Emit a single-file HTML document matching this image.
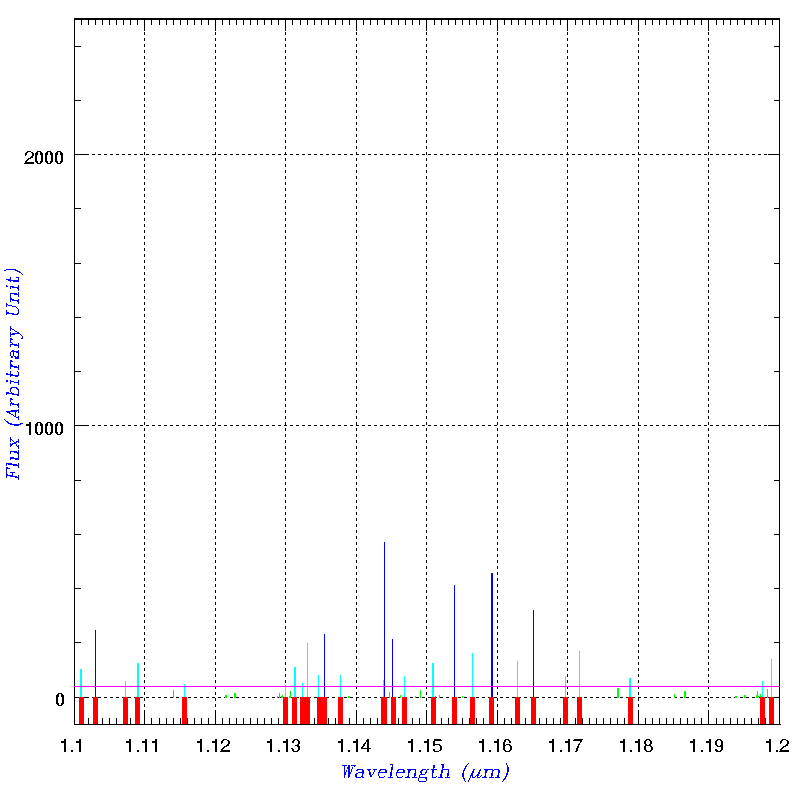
<!DOCTYPE html>
<html><head><meta charset="utf-8"><title>Flux vs Wavelength</title>
<style>
html,body{margin:0;padding:0;background:#fff;}
body{width:797px;height:797px;position:relative;overflow:hidden;font-family:"Liberation Sans",sans-serif;}
svg{position:absolute;left:0;top:0;}
.t{position:absolute;display:block;font-size:18px;line-height:20px;color:transparent;white-space:pre;}
.a{font-family:"Liberation Mono",monospace;font-style:italic;}
.v{left:0;top:0;transform-origin:0 0;transform:translate(4px,480px) rotate(-90deg);}
</style></head><body>
<svg width="797" height="797" viewBox="0 0 797 797" shape-rendering="crispEdges" role="img" aria-label="Flux (Arbitrary Unit) versus Wavelength (micron)">
<line x1="144.5" y1="20" x2="144.5" y2="724" stroke="#000" stroke-width="1" stroke-dasharray="3 3"/>
<line x1="215.5" y1="20" x2="215.5" y2="724" stroke="#000" stroke-width="1" stroke-dasharray="3 3"/>
<line x1="285.5" y1="20" x2="285.5" y2="724" stroke="#000" stroke-width="1" stroke-dasharray="3 3"/>
<line x1="356.5" y1="20" x2="356.5" y2="724" stroke="#000" stroke-width="1" stroke-dasharray="3 3"/>
<line x1="426.5" y1="20" x2="426.5" y2="724" stroke="#000" stroke-width="1" stroke-dasharray="3 3"/>
<line x1="497.5" y1="20" x2="497.5" y2="724" stroke="#000" stroke-width="1" stroke-dasharray="3 3"/>
<line x1="567.5" y1="20" x2="567.5" y2="724" stroke="#000" stroke-width="1" stroke-dasharray="3 3"/>
<line x1="638.5" y1="20" x2="638.5" y2="724" stroke="#000" stroke-width="1" stroke-dasharray="3 3"/>
<line x1="708.5" y1="20" x2="708.5" y2="724" stroke="#000" stroke-width="1" stroke-dasharray="3 3"/>
<line x1="74" y1="697.5" x2="779" y2="697.5" stroke="#000" stroke-width="1" stroke-dasharray="3 3"/>
<line x1="74" y1="425.5" x2="779" y2="425.5" stroke="#000" stroke-width="1" stroke-dasharray="3 3"/>
<line x1="74" y1="154.5" x2="779" y2="154.5" stroke="#000" stroke-width="1" stroke-dasharray="3 3"/>
<rect x="81" y="20" width="1" height="5" fill="#000"/>
<rect x="81" y="718" width="1" height="6" fill="#000"/>
<rect x="88" y="20" width="1" height="5" fill="#000"/>
<rect x="88" y="718" width="1" height="6" fill="#000"/>
<rect x="95" y="20" width="1" height="5" fill="#000"/>
<rect x="95" y="718" width="1" height="6" fill="#000"/>
<rect x="102" y="20" width="1" height="5" fill="#000"/>
<rect x="102" y="718" width="1" height="6" fill="#000"/>
<rect x="109" y="20" width="1" height="5" fill="#000"/>
<rect x="109" y="718" width="1" height="6" fill="#000"/>
<rect x="116" y="20" width="1" height="5" fill="#000"/>
<rect x="116" y="718" width="1" height="6" fill="#000"/>
<rect x="123" y="20" width="1" height="5" fill="#000"/>
<rect x="123" y="718" width="1" height="6" fill="#000"/>
<rect x="130" y="20" width="1" height="5" fill="#000"/>
<rect x="130" y="718" width="1" height="6" fill="#000"/>
<rect x="137" y="20" width="1" height="5" fill="#000"/>
<rect x="137" y="718" width="1" height="6" fill="#000"/>
<rect x="144" y="20" width="1" height="11" fill="#000"/>
<rect x="144" y="713" width="1" height="11" fill="#000"/>
<rect x="151" y="20" width="1" height="5" fill="#000"/>
<rect x="151" y="718" width="1" height="6" fill="#000"/>
<rect x="159" y="20" width="1" height="5" fill="#000"/>
<rect x="159" y="718" width="1" height="6" fill="#000"/>
<rect x="166" y="20" width="1" height="5" fill="#000"/>
<rect x="166" y="718" width="1" height="6" fill="#000"/>
<rect x="173" y="20" width="1" height="5" fill="#000"/>
<rect x="173" y="718" width="1" height="6" fill="#000"/>
<rect x="180" y="20" width="1" height="5" fill="#000"/>
<rect x="180" y="718" width="1" height="6" fill="#000"/>
<rect x="187" y="20" width="1" height="5" fill="#000"/>
<rect x="187" y="718" width="1" height="6" fill="#000"/>
<rect x="194" y="20" width="1" height="5" fill="#000"/>
<rect x="194" y="718" width="1" height="6" fill="#000"/>
<rect x="201" y="20" width="1" height="5" fill="#000"/>
<rect x="201" y="718" width="1" height="6" fill="#000"/>
<rect x="208" y="20" width="1" height="5" fill="#000"/>
<rect x="208" y="718" width="1" height="6" fill="#000"/>
<rect x="215" y="20" width="1" height="11" fill="#000"/>
<rect x="215" y="713" width="1" height="11" fill="#000"/>
<rect x="222" y="20" width="1" height="5" fill="#000"/>
<rect x="222" y="718" width="1" height="6" fill="#000"/>
<rect x="229" y="20" width="1" height="5" fill="#000"/>
<rect x="229" y="718" width="1" height="6" fill="#000"/>
<rect x="236" y="20" width="1" height="5" fill="#000"/>
<rect x="236" y="718" width="1" height="6" fill="#000"/>
<rect x="243" y="20" width="1" height="5" fill="#000"/>
<rect x="243" y="718" width="1" height="6" fill="#000"/>
<rect x="250" y="20" width="1" height="5" fill="#000"/>
<rect x="250" y="718" width="1" height="6" fill="#000"/>
<rect x="257" y="20" width="1" height="5" fill="#000"/>
<rect x="257" y="718" width="1" height="6" fill="#000"/>
<rect x="264" y="20" width="1" height="5" fill="#000"/>
<rect x="264" y="718" width="1" height="6" fill="#000"/>
<rect x="271" y="20" width="1" height="5" fill="#000"/>
<rect x="271" y="718" width="1" height="6" fill="#000"/>
<rect x="278" y="20" width="1" height="5" fill="#000"/>
<rect x="278" y="718" width="1" height="6" fill="#000"/>
<rect x="285" y="20" width="1" height="11" fill="#000"/>
<rect x="285" y="713" width="1" height="11" fill="#000"/>
<rect x="292" y="20" width="1" height="5" fill="#000"/>
<rect x="292" y="718" width="1" height="6" fill="#000"/>
<rect x="300" y="20" width="1" height="5" fill="#000"/>
<rect x="300" y="718" width="1" height="6" fill="#000"/>
<rect x="307" y="20" width="1" height="5" fill="#000"/>
<rect x="307" y="718" width="1" height="6" fill="#000"/>
<rect x="314" y="20" width="1" height="5" fill="#000"/>
<rect x="314" y="718" width="1" height="6" fill="#000"/>
<rect x="321" y="20" width="1" height="5" fill="#000"/>
<rect x="321" y="718" width="1" height="6" fill="#000"/>
<rect x="328" y="20" width="1" height="5" fill="#000"/>
<rect x="328" y="718" width="1" height="6" fill="#000"/>
<rect x="335" y="20" width="1" height="5" fill="#000"/>
<rect x="335" y="718" width="1" height="6" fill="#000"/>
<rect x="342" y="20" width="1" height="5" fill="#000"/>
<rect x="342" y="718" width="1" height="6" fill="#000"/>
<rect x="349" y="20" width="1" height="5" fill="#000"/>
<rect x="349" y="718" width="1" height="6" fill="#000"/>
<rect x="356" y="20" width="1" height="11" fill="#000"/>
<rect x="356" y="713" width="1" height="11" fill="#000"/>
<rect x="363" y="20" width="1" height="5" fill="#000"/>
<rect x="363" y="718" width="1" height="6" fill="#000"/>
<rect x="370" y="20" width="1" height="5" fill="#000"/>
<rect x="370" y="718" width="1" height="6" fill="#000"/>
<rect x="377" y="20" width="1" height="5" fill="#000"/>
<rect x="377" y="718" width="1" height="6" fill="#000"/>
<rect x="384" y="20" width="1" height="5" fill="#000"/>
<rect x="384" y="718" width="1" height="6" fill="#000"/>
<rect x="391" y="20" width="1" height="5" fill="#000"/>
<rect x="391" y="718" width="1" height="6" fill="#000"/>
<rect x="398" y="20" width="1" height="5" fill="#000"/>
<rect x="398" y="718" width="1" height="6" fill="#000"/>
<rect x="405" y="20" width="1" height="5" fill="#000"/>
<rect x="405" y="718" width="1" height="6" fill="#000"/>
<rect x="412" y="20" width="1" height="5" fill="#000"/>
<rect x="412" y="718" width="1" height="6" fill="#000"/>
<rect x="419" y="20" width="1" height="5" fill="#000"/>
<rect x="419" y="718" width="1" height="6" fill="#000"/>
<rect x="426" y="20" width="1" height="11" fill="#000"/>
<rect x="426" y="713" width="1" height="11" fill="#000"/>
<rect x="434" y="20" width="1" height="5" fill="#000"/>
<rect x="434" y="718" width="1" height="6" fill="#000"/>
<rect x="441" y="20" width="1" height="5" fill="#000"/>
<rect x="441" y="718" width="1" height="6" fill="#000"/>
<rect x="448" y="20" width="1" height="5" fill="#000"/>
<rect x="448" y="718" width="1" height="6" fill="#000"/>
<rect x="455" y="20" width="1" height="5" fill="#000"/>
<rect x="455" y="718" width="1" height="6" fill="#000"/>
<rect x="462" y="20" width="1" height="5" fill="#000"/>
<rect x="462" y="718" width="1" height="6" fill="#000"/>
<rect x="469" y="20" width="1" height="5" fill="#000"/>
<rect x="469" y="718" width="1" height="6" fill="#000"/>
<rect x="476" y="20" width="1" height="5" fill="#000"/>
<rect x="476" y="718" width="1" height="6" fill="#000"/>
<rect x="483" y="20" width="1" height="5" fill="#000"/>
<rect x="483" y="718" width="1" height="6" fill="#000"/>
<rect x="490" y="20" width="1" height="5" fill="#000"/>
<rect x="490" y="718" width="1" height="6" fill="#000"/>
<rect x="497" y="20" width="1" height="11" fill="#000"/>
<rect x="497" y="713" width="1" height="11" fill="#000"/>
<rect x="504" y="20" width="1" height="5" fill="#000"/>
<rect x="504" y="718" width="1" height="6" fill="#000"/>
<rect x="511" y="20" width="1" height="5" fill="#000"/>
<rect x="511" y="718" width="1" height="6" fill="#000"/>
<rect x="518" y="20" width="1" height="5" fill="#000"/>
<rect x="518" y="718" width="1" height="6" fill="#000"/>
<rect x="525" y="20" width="1" height="5" fill="#000"/>
<rect x="525" y="718" width="1" height="6" fill="#000"/>
<rect x="532" y="20" width="1" height="5" fill="#000"/>
<rect x="532" y="718" width="1" height="6" fill="#000"/>
<rect x="539" y="20" width="1" height="5" fill="#000"/>
<rect x="539" y="718" width="1" height="6" fill="#000"/>
<rect x="546" y="20" width="1" height="5" fill="#000"/>
<rect x="546" y="718" width="1" height="6" fill="#000"/>
<rect x="553" y="20" width="1" height="5" fill="#000"/>
<rect x="553" y="718" width="1" height="6" fill="#000"/>
<rect x="560" y="20" width="1" height="5" fill="#000"/>
<rect x="560" y="718" width="1" height="6" fill="#000"/>
<rect x="567" y="20" width="1" height="11" fill="#000"/>
<rect x="567" y="713" width="1" height="11" fill="#000"/>
<rect x="575" y="20" width="1" height="5" fill="#000"/>
<rect x="575" y="718" width="1" height="6" fill="#000"/>
<rect x="582" y="20" width="1" height="5" fill="#000"/>
<rect x="582" y="718" width="1" height="6" fill="#000"/>
<rect x="589" y="20" width="1" height="5" fill="#000"/>
<rect x="589" y="718" width="1" height="6" fill="#000"/>
<rect x="596" y="20" width="1" height="5" fill="#000"/>
<rect x="596" y="718" width="1" height="6" fill="#000"/>
<rect x="603" y="20" width="1" height="5" fill="#000"/>
<rect x="603" y="718" width="1" height="6" fill="#000"/>
<rect x="610" y="20" width="1" height="5" fill="#000"/>
<rect x="610" y="718" width="1" height="6" fill="#000"/>
<rect x="617" y="20" width="1" height="5" fill="#000"/>
<rect x="617" y="718" width="1" height="6" fill="#000"/>
<rect x="624" y="20" width="1" height="5" fill="#000"/>
<rect x="624" y="718" width="1" height="6" fill="#000"/>
<rect x="631" y="20" width="1" height="5" fill="#000"/>
<rect x="631" y="718" width="1" height="6" fill="#000"/>
<rect x="638" y="20" width="1" height="11" fill="#000"/>
<rect x="638" y="713" width="1" height="11" fill="#000"/>
<rect x="645" y="20" width="1" height="5" fill="#000"/>
<rect x="645" y="718" width="1" height="6" fill="#000"/>
<rect x="652" y="20" width="1" height="5" fill="#000"/>
<rect x="652" y="718" width="1" height="6" fill="#000"/>
<rect x="659" y="20" width="1" height="5" fill="#000"/>
<rect x="659" y="718" width="1" height="6" fill="#000"/>
<rect x="666" y="20" width="1" height="5" fill="#000"/>
<rect x="666" y="718" width="1" height="6" fill="#000"/>
<rect x="673" y="20" width="1" height="5" fill="#000"/>
<rect x="673" y="718" width="1" height="6" fill="#000"/>
<rect x="680" y="20" width="1" height="5" fill="#000"/>
<rect x="680" y="718" width="1" height="6" fill="#000"/>
<rect x="687" y="20" width="1" height="5" fill="#000"/>
<rect x="687" y="718" width="1" height="6" fill="#000"/>
<rect x="694" y="20" width="1" height="5" fill="#000"/>
<rect x="694" y="718" width="1" height="6" fill="#000"/>
<rect x="701" y="20" width="1" height="5" fill="#000"/>
<rect x="701" y="718" width="1" height="6" fill="#000"/>
<rect x="708" y="20" width="1" height="11" fill="#000"/>
<rect x="708" y="713" width="1" height="11" fill="#000"/>
<rect x="716" y="20" width="1" height="5" fill="#000"/>
<rect x="716" y="718" width="1" height="6" fill="#000"/>
<rect x="723" y="20" width="1" height="5" fill="#000"/>
<rect x="723" y="718" width="1" height="6" fill="#000"/>
<rect x="730" y="20" width="1" height="5" fill="#000"/>
<rect x="730" y="718" width="1" height="6" fill="#000"/>
<rect x="737" y="20" width="1" height="5" fill="#000"/>
<rect x="737" y="718" width="1" height="6" fill="#000"/>
<rect x="744" y="20" width="1" height="5" fill="#000"/>
<rect x="744" y="718" width="1" height="6" fill="#000"/>
<rect x="751" y="20" width="1" height="5" fill="#000"/>
<rect x="751" y="718" width="1" height="6" fill="#000"/>
<rect x="758" y="20" width="1" height="5" fill="#000"/>
<rect x="758" y="718" width="1" height="6" fill="#000"/>
<rect x="765" y="20" width="1" height="5" fill="#000"/>
<rect x="765" y="718" width="1" height="6" fill="#000"/>
<rect x="772" y="20" width="1" height="5" fill="#000"/>
<rect x="772" y="718" width="1" height="6" fill="#000"/>
<rect x="75" y="697" width="11" height="1" fill="#000"/>
<rect x="768" y="697" width="11" height="1" fill="#000"/>
<rect x="75" y="642" width="6" height="1" fill="#000"/>
<rect x="774" y="642" width="5" height="1" fill="#000"/>
<rect x="75" y="588" width="6" height="1" fill="#000"/>
<rect x="774" y="588" width="5" height="1" fill="#000"/>
<rect x="75" y="534" width="6" height="1" fill="#000"/>
<rect x="774" y="534" width="5" height="1" fill="#000"/>
<rect x="75" y="480" width="6" height="1" fill="#000"/>
<rect x="774" y="480" width="5" height="1" fill="#000"/>
<rect x="75" y="425" width="11" height="1" fill="#000"/>
<rect x="768" y="425" width="11" height="1" fill="#000"/>
<rect x="75" y="371" width="6" height="1" fill="#000"/>
<rect x="774" y="371" width="5" height="1" fill="#000"/>
<rect x="75" y="317" width="6" height="1" fill="#000"/>
<rect x="774" y="317" width="5" height="1" fill="#000"/>
<rect x="75" y="263" width="6" height="1" fill="#000"/>
<rect x="774" y="263" width="5" height="1" fill="#000"/>
<rect x="75" y="208" width="6" height="1" fill="#000"/>
<rect x="774" y="208" width="5" height="1" fill="#000"/>
<rect x="75" y="154" width="11" height="1" fill="#000"/>
<rect x="768" y="154" width="11" height="1" fill="#000"/>
<rect x="75" y="100" width="6" height="1" fill="#000"/>
<rect x="774" y="100" width="5" height="1" fill="#000"/>
<rect x="75" y="46" width="6" height="1" fill="#000"/>
<rect x="774" y="46" width="5" height="1" fill="#000"/>
<rect x="173" y="690" width="1" height="8" fill="#00ff00"/>
<rect x="225" y="695" width="2" height="3" fill="#00ff00"/>
<rect x="234" y="693" width="2" height="5" fill="#00ff00"/>
<rect x="277" y="696" width="1" height="2" fill="#00ff00"/>
<rect x="279" y="693" width="1" height="5" fill="#00ff00"/>
<rect x="281" y="696" width="1" height="2" fill="#00ff00"/>
<rect x="282" y="695" width="1" height="3" fill="#00ff00"/>
<rect x="290" y="691" width="1" height="7" fill="#00ff00"/>
<rect x="289" y="696" width="1" height="2" fill="#00ff00"/>
<rect x="348" y="696" width="2" height="2" fill="#00ff00"/>
<rect x="389" y="692" width="1" height="6" fill="#00ff00"/>
<rect x="400" y="695" width="1" height="3" fill="#00ff00"/>
<rect x="415" y="696" width="1" height="2" fill="#00ff00"/>
<rect x="420" y="690" width="1" height="8" fill="#00ff00"/>
<rect x="435" y="696" width="1" height="1" fill="#00ff00"/>
<rect x="439" y="695" width="1" height="3" fill="#00ff00"/>
<rect x="462" y="696" width="1" height="2" fill="#00ff00"/>
<rect x="617" y="688" width="2" height="10" fill="#00ff00"/>
<rect x="674" y="694" width="1" height="4" fill="#00ff00"/>
<rect x="684" y="691" width="2" height="7" fill="#00ff00"/>
<rect x="735" y="696" width="2" height="2" fill="#00ff00"/>
<rect x="744" y="695" width="2" height="3" fill="#00ff00"/>
<rect x="756" y="695" width="2" height="3" fill="#00ff00"/>
<rect x="758" y="696" width="1" height="2" fill="#00ff00"/>
<rect x="757" y="691" width="1" height="7" fill="#00ff00"/>
<rect x="760" y="694" width="1" height="3" fill="#00ff00"/>
<rect x="761" y="696" width="1" height="1" fill="#00ff00"/>
<rect x="767" y="689" width="1" height="9" fill="#00ff00"/>
<rect x="80" y="669" width="2" height="28" fill="#00ffff"/>
<rect x="125" y="681" width="1" height="16" fill="#00ffff"/>
<rect x="137" y="663" width="2" height="34" fill="#00ffff"/>
<rect x="184" y="684" width="1" height="13" fill="#00ffff"/>
<rect x="285" y="685" width="1" height="12" fill="#00ffff"/>
<rect x="294" y="667" width="2" height="30" fill="#00ffff"/>
<rect x="302" y="683" width="1" height="14" fill="#00ffff"/>
<rect x="307" y="643" width="1" height="54" fill="#00ffff"/>
<rect x="318" y="675" width="1" height="22" fill="#00ffff"/>
<rect x="340" y="675" width="1" height="22" fill="#00ffff"/>
<rect x="383" y="680" width="1" height="17" fill="#00ffff"/>
<rect x="404" y="676" width="1" height="21" fill="#00ffff"/>
<rect x="432" y="663" width="2" height="34" fill="#00ffff"/>
<rect x="472" y="653" width="1" height="44" fill="#00ffff"/>
<rect x="517" y="661" width="1" height="36" fill="#00ffff"/>
<rect x="565" y="676" width="1" height="21" fill="#00ffff"/>
<rect x="579" y="651" width="1" height="46" fill="#00ffff"/>
<rect x="629" y="678" width="2" height="19" fill="#00ffff"/>
<rect x="762" y="681" width="1" height="16" fill="#00ffff"/>
<rect x="771" y="659" width="1" height="38" fill="#00ffff"/>
<rect x="95" y="630" width="1" height="67" fill="#0000ff"/>
<rect x="324" y="634" width="1" height="63" fill="#0000ff"/>
<rect x="384" y="542" width="1" height="155" fill="#0000ff"/>
<rect x="392" y="639" width="1" height="58" fill="#0000ff"/>
<rect x="454" y="585" width="1" height="112" fill="#0000ff"/>
<rect x="491" y="573" width="2" height="124" fill="#0000ff"/>
<rect x="533" y="610" width="1" height="87" fill="#0000ff"/>
<rect x="79" y="697" width="5" height="27" fill="#ff0000"/>
<rect x="93" y="697" width="5" height="27" fill="#ff0000"/>
<rect x="123" y="697" width="5" height="27" fill="#ff0000"/>
<rect x="135" y="697" width="5" height="27" fill="#ff0000"/>
<rect x="182" y="697" width="5" height="27" fill="#ff0000"/>
<rect x="283" y="697" width="5" height="27" fill="#ff0000"/>
<rect x="292" y="697" width="5" height="27" fill="#ff0000"/>
<rect x="300" y="697" width="10" height="27" fill="#ff0000"/>
<rect x="317" y="697" width="10" height="27" fill="#ff0000"/>
<rect x="338" y="697" width="5" height="27" fill="#ff0000"/>
<rect x="381" y="697" width="6" height="27" fill="#ff0000"/>
<rect x="391" y="697" width="5" height="27" fill="#ff0000"/>
<rect x="402" y="697" width="5" height="27" fill="#ff0000"/>
<rect x="431" y="697" width="5" height="27" fill="#ff0000"/>
<rect x="452" y="697" width="5" height="27" fill="#ff0000"/>
<rect x="470" y="697" width="5" height="27" fill="#ff0000"/>
<rect x="489" y="697" width="5" height="27" fill="#ff0000"/>
<rect x="515" y="697" width="5" height="27" fill="#ff0000"/>
<rect x="531" y="697" width="5" height="27" fill="#ff0000"/>
<rect x="563" y="697" width="5" height="27" fill="#ff0000"/>
<rect x="577" y="697" width="5" height="27" fill="#ff0000"/>
<rect x="628" y="697" width="5" height="27" fill="#ff0000"/>
<rect x="760" y="697" width="5" height="27" fill="#ff0000"/>
<rect x="769" y="697" width="5" height="27" fill="#ff0000"/>
<rect x="74" y="18" width="706" height="2" fill="#000"/>
<rect x="74" y="724" width="707" height="1" fill="#000"/>
<rect x="74" y="18" width="1" height="707" fill="#000"/>
<rect x="779" y="18" width="1" height="707" fill="#000"/>
<rect x="74" y="686" width="706" height="1" fill="#ff00ff"/>
<g fill="#000"><path transform="translate(59 739)" d="M5 0h2v1h-2zM5 1h2v1h-2zM2 2h5v1h-5zM2 3h5v1h-5zM5 4h2v1h-2zM5 5h2v1h-2zM5 6h2v1h-2zM5 7h2v1h-2zM5 8h2v1h-2zM5 9h2v1h-2zM5 10h2v1h-2zM5 11h2v1h-2zM5 12h2v1h-2z"/><path transform="translate(68 739)" d="M3 11h2v1h-2zM3 12h2v1h-2z"/><path transform="translate(74 739)" d="M5 0h2v1h-2zM5 1h2v1h-2zM2 2h5v1h-5zM2 3h5v1h-5zM5 4h2v1h-2zM5 5h2v1h-2zM5 6h2v1h-2zM5 7h2v1h-2zM5 8h2v1h-2zM5 9h2v1h-2zM5 10h2v1h-2zM5 11h2v1h-2zM5 12h2v1h-2z"/><path transform="translate(124 739)" d="M5 0h2v1h-2zM5 1h2v1h-2zM2 2h5v1h-5zM2 3h5v1h-5zM5 4h2v1h-2zM5 5h2v1h-2zM5 6h2v1h-2zM5 7h2v1h-2zM5 8h2v1h-2zM5 9h2v1h-2zM5 10h2v1h-2zM5 11h2v1h-2zM5 12h2v1h-2z"/><path transform="translate(134 739)" d="M3 11h2v1h-2zM3 12h2v1h-2z"/><path transform="translate(140 739)" d="M5 0h2v1h-2zM5 1h2v1h-2zM2 2h5v1h-5zM2 3h5v1h-5zM5 4h2v1h-2zM5 5h2v1h-2zM5 6h2v1h-2zM5 7h2v1h-2zM5 8h2v1h-2zM5 9h2v1h-2zM5 10h2v1h-2zM5 11h2v1h-2zM5 12h2v1h-2z"/><path transform="translate(150 739)" d="M5 0h2v1h-2zM5 1h2v1h-2zM2 2h5v1h-5zM2 3h5v1h-5zM5 4h2v1h-2zM5 5h2v1h-2zM5 6h2v1h-2zM5 7h2v1h-2zM5 8h2v1h-2zM5 9h2v1h-2zM5 10h2v1h-2zM5 11h2v1h-2zM5 12h2v1h-2z"/><path transform="translate(195 739)" d="M5 0h2v1h-2zM5 1h2v1h-2zM2 2h5v1h-5zM2 3h5v1h-5zM5 4h2v1h-2zM5 5h2v1h-2zM5 6h2v1h-2zM5 7h2v1h-2zM5 8h2v1h-2zM5 9h2v1h-2zM5 10h2v1h-2zM5 11h2v1h-2zM5 12h2v1h-2z"/><path transform="translate(204 739)" d="M3 11h2v1h-2zM3 12h2v1h-2z"/><path transform="translate(210 739)" d="M5 0h2v1h-2zM5 1h2v1h-2zM2 2h5v1h-5zM2 3h5v1h-5zM5 4h2v1h-2zM5 5h2v1h-2zM5 6h2v1h-2zM5 7h2v1h-2zM5 8h2v1h-2zM5 9h2v1h-2zM5 10h2v1h-2zM5 11h2v1h-2zM5 12h2v1h-2z"/><path transform="translate(220 739)" d="M3 0h4v1h-4zM2 1h2v1h-2zM7 1h2v1h-2zM1 2h2v1h-2zM8 2h2v1h-2zM1 3h2v1h-2zM8 3h2v1h-2zM1 4h1v1h-1zM8 4h2v1h-2zM7 5h2v1h-2zM6 6h3v1h-3zM4 7h3v1h-3zM3 8h2v1h-2zM2 9h2v1h-2zM1 10h2v1h-2zM1 11h9v1h-9zM0 12h10v1h-10z"/><path transform="translate(265 739)" d="M5 0h2v1h-2zM5 1h2v1h-2zM2 2h5v1h-5zM2 3h5v1h-5zM5 4h2v1h-2zM5 5h2v1h-2zM5 6h2v1h-2zM5 7h2v1h-2zM5 8h2v1h-2zM5 9h2v1h-2zM5 10h2v1h-2zM5 11h2v1h-2zM5 12h2v1h-2z"/><path transform="translate(275 739)" d="M3 11h2v1h-2zM3 12h2v1h-2z"/><path transform="translate(281 739)" d="M5 0h2v1h-2zM5 1h2v1h-2zM2 2h5v1h-5zM2 3h5v1h-5zM5 4h2v1h-2zM5 5h2v1h-2zM5 6h2v1h-2zM5 7h2v1h-2zM5 8h2v1h-2zM5 9h2v1h-2zM5 10h2v1h-2zM5 11h2v1h-2zM5 12h2v1h-2z"/><path transform="translate(291 739)" d="M3 0h4v1h-4zM2 1h2v1h-2zM6 1h2v1h-2zM1 2h2v1h-2zM7 2h2v1h-2zM1 3h2v1h-2zM7 3h2v1h-2zM7 4h2v1h-2zM6 5h2v1h-2zM4 6h4v1h-4zM6 7h3v1h-3zM7 8h2v1h-2zM0 9h2v1h-2zM7 9h2v1h-2zM1 10h2v1h-2zM7 10h2v1h-2zM1 11h2v1h-2zM6 11h2v1h-2zM2 12h5v1h-5z"/><path transform="translate(336 739)" d="M5 0h2v1h-2zM5 1h2v1h-2zM2 2h5v1h-5zM2 3h5v1h-5zM5 4h2v1h-2zM5 5h2v1h-2zM5 6h2v1h-2zM5 7h2v1h-2zM5 8h2v1h-2zM5 9h2v1h-2zM5 10h2v1h-2zM5 11h2v1h-2zM5 12h2v1h-2z"/><path transform="translate(345 739)" d="M3 11h2v1h-2zM3 12h2v1h-2z"/><path transform="translate(351 739)" d="M5 0h2v1h-2zM5 1h2v1h-2zM2 2h5v1h-5zM2 3h5v1h-5zM5 4h2v1h-2zM5 5h2v1h-2zM5 6h2v1h-2zM5 7h2v1h-2zM5 8h2v1h-2zM5 9h2v1h-2zM5 10h2v1h-2zM5 11h2v1h-2zM5 12h2v1h-2z"/><path transform="translate(361 739)" d="M6 0h2v1h-2zM5 1h3v1h-3zM5 2h3v1h-3zM4 3h1v1h-1zM6 3h2v1h-2zM3 4h2v1h-2zM6 4h2v1h-2zM2 5h2v1h-2zM6 5h2v1h-2zM2 6h2v1h-2zM6 6h2v1h-2zM1 7h2v1h-2zM6 7h2v1h-2zM0 8h2v1h-2zM6 8h2v1h-2zM0 9h10v1h-10zM6 10h2v1h-2zM6 11h2v1h-2zM6 12h2v1h-2z"/><path transform="translate(406 739)" d="M5 0h2v1h-2zM5 1h2v1h-2zM2 2h5v1h-5zM2 3h5v1h-5zM5 4h2v1h-2zM5 5h2v1h-2zM5 6h2v1h-2zM5 7h2v1h-2zM5 8h2v1h-2zM5 9h2v1h-2zM5 10h2v1h-2zM5 11h2v1h-2zM5 12h2v1h-2z"/><path transform="translate(416 739)" d="M3 11h2v1h-2zM3 12h2v1h-2z"/><path transform="translate(422 739)" d="M5 0h2v1h-2zM5 1h2v1h-2zM2 2h5v1h-5zM2 3h5v1h-5zM5 4h2v1h-2zM5 5h2v1h-2zM5 6h2v1h-2zM5 7h2v1h-2zM5 8h2v1h-2zM5 9h2v1h-2zM5 10h2v1h-2zM5 11h2v1h-2zM5 12h2v1h-2z"/><path transform="translate(432 739)" d="M2 0h7v1h-7zM2 1h8v1h-8zM1 2h2v1h-2zM1 3h2v1h-2zM1 4h2v1h-2zM1 5h7v1h-7zM1 6h2v1h-2zM7 6h2v1h-2zM8 7h2v1h-2zM8 8h2v1h-2zM8 9h2v1h-2zM1 10h2v1h-2zM8 10h2v1h-2zM1 11h2v1h-2zM7 11h2v1h-2zM2 12h5v1h-5z"/><path transform="translate(477 739)" d="M5 0h2v1h-2zM5 1h2v1h-2zM2 2h5v1h-5zM2 3h5v1h-5zM5 4h2v1h-2zM5 5h2v1h-2zM5 6h2v1h-2zM5 7h2v1h-2zM5 8h2v1h-2zM5 9h2v1h-2zM5 10h2v1h-2zM5 11h2v1h-2zM5 12h2v1h-2z"/><path transform="translate(486 739)" d="M3 11h2v1h-2zM3 12h2v1h-2z"/><path transform="translate(492 739)" d="M5 0h2v1h-2zM5 1h2v1h-2zM2 2h5v1h-5zM2 3h5v1h-5zM5 4h2v1h-2zM5 5h2v1h-2zM5 6h2v1h-2zM5 7h2v1h-2zM5 8h2v1h-2zM5 9h2v1h-2zM5 10h2v1h-2zM5 11h2v1h-2zM5 12h2v1h-2z"/><path transform="translate(502 739)" d="M3 0h4v1h-4zM2 1h2v1h-2zM6 1h2v1h-2zM2 2h2v1h-2zM7 2h2v1h-2zM1 3h2v1h-2zM7 3h2v1h-2zM1 4h2v1h-2zM1 5h2v1h-2zM4 5h4v1h-4zM1 6h3v1h-3zM7 6h2v1h-2zM1 7h2v1h-2zM8 7h2v1h-2zM1 8h2v1h-2zM8 8h2v1h-2zM1 9h2v1h-2zM8 9h2v1h-2zM1 10h2v1h-2zM8 10h2v1h-2zM2 11h2v1h-2zM7 11h2v1h-2zM3 12h5v1h-5z"/><path transform="translate(547 739)" d="M5 0h2v1h-2zM5 1h2v1h-2zM2 2h5v1h-5zM2 3h5v1h-5zM5 4h2v1h-2zM5 5h2v1h-2zM5 6h2v1h-2zM5 7h2v1h-2zM5 8h2v1h-2zM5 9h2v1h-2zM5 10h2v1h-2zM5 11h2v1h-2zM5 12h2v1h-2z"/><path transform="translate(557 739)" d="M3 11h2v1h-2zM3 12h2v1h-2z"/><path transform="translate(563 739)" d="M5 0h2v1h-2zM5 1h2v1h-2zM2 2h5v1h-5zM2 3h5v1h-5zM5 4h2v1h-2zM5 5h2v1h-2zM5 6h2v1h-2zM5 7h2v1h-2zM5 8h2v1h-2zM5 9h2v1h-2zM5 10h2v1h-2zM5 11h2v1h-2zM5 12h2v1h-2z"/><path transform="translate(573 739)" d="M1 0h9v1h-9zM0 1h9v1h-9zM7 2h2v1h-2zM7 3h1v1h-1zM6 4h1v1h-1zM5 5h2v1h-2zM5 6h1v1h-1zM4 7h2v1h-2zM4 8h2v1h-2zM3 9h2v1h-2zM3 10h2v1h-2zM3 11h2v1h-2zM2 12h2v1h-2z"/><path transform="translate(618 739)" d="M5 0h2v1h-2zM5 1h2v1h-2zM2 2h5v1h-5zM2 3h5v1h-5zM5 4h2v1h-2zM5 5h2v1h-2zM5 6h2v1h-2zM5 7h2v1h-2zM5 8h2v1h-2zM5 9h2v1h-2zM5 10h2v1h-2zM5 11h2v1h-2zM5 12h2v1h-2z"/><path transform="translate(627 739)" d="M3 11h2v1h-2zM3 12h2v1h-2z"/><path transform="translate(633 739)" d="M5 0h2v1h-2zM5 1h2v1h-2zM2 2h5v1h-5zM2 3h5v1h-5zM5 4h2v1h-2zM5 5h2v1h-2zM5 6h2v1h-2zM5 7h2v1h-2zM5 8h2v1h-2zM5 9h2v1h-2zM5 10h2v1h-2zM5 11h2v1h-2zM5 12h2v1h-2z"/><path transform="translate(643 739)" d="M3 0h4v1h-4zM2 1h2v1h-2zM6 1h2v1h-2zM1 2h2v1h-2zM7 2h2v1h-2zM1 3h2v1h-2zM7 3h2v1h-2zM1 4h2v1h-2zM7 4h2v1h-2zM2 5h2v1h-2zM6 5h2v1h-2zM2 6h6v1h-6zM1 7h2v1h-2zM7 7h2v1h-2zM1 8h2v1h-2zM8 8h2v1h-2zM1 9h2v1h-2zM8 9h2v1h-2zM1 10h2v1h-2zM8 10h2v1h-2zM2 11h2v1h-2zM7 11h2v1h-2zM3 12h5v1h-5z"/><path transform="translate(688 739)" d="M5 0h2v1h-2zM5 1h2v1h-2zM2 2h5v1h-5zM2 3h5v1h-5zM5 4h2v1h-2zM5 5h2v1h-2zM5 6h2v1h-2zM5 7h2v1h-2zM5 8h2v1h-2zM5 9h2v1h-2zM5 10h2v1h-2zM5 11h2v1h-2zM5 12h2v1h-2z"/><path transform="translate(698 739)" d="M3 11h2v1h-2zM3 12h2v1h-2z"/><path transform="translate(704 739)" d="M5 0h2v1h-2zM5 1h2v1h-2zM2 2h5v1h-5zM2 3h5v1h-5zM5 4h2v1h-2zM5 5h2v1h-2zM5 6h2v1h-2zM5 7h2v1h-2zM5 8h2v1h-2zM5 9h2v1h-2zM5 10h2v1h-2zM5 11h2v1h-2zM5 12h2v1h-2z"/><path transform="translate(714 739)" d="M3 0h4v1h-4zM2 1h2v1h-2zM6 1h2v1h-2zM1 2h2v1h-2zM7 2h2v1h-2zM1 3h2v1h-2zM7 3h2v1h-2zM1 4h2v1h-2zM7 4h2v1h-2zM1 5h2v1h-2zM7 5h2v1h-2zM2 6h2v1h-2zM6 6h3v1h-3zM3 7h6v1h-6zM7 8h2v1h-2zM7 9h2v1h-2zM1 10h2v1h-2zM7 10h2v1h-2zM1 11h3v1h-3zM6 11h2v1h-2zM2 12h5v1h-5z"/><path transform="translate(764 739)" d="M5 0h2v1h-2zM5 1h2v1h-2zM2 2h5v1h-5zM2 3h5v1h-5zM5 4h2v1h-2zM5 5h2v1h-2zM5 6h2v1h-2zM5 7h2v1h-2zM5 8h2v1h-2zM5 9h2v1h-2zM5 10h2v1h-2zM5 11h2v1h-2zM5 12h2v1h-2z"/><path transform="translate(773 739)" d="M3 11h2v1h-2zM3 12h2v1h-2z"/><path transform="translate(779 739)" d="M3 0h4v1h-4zM2 1h2v1h-2zM7 1h2v1h-2zM1 2h2v1h-2zM8 2h2v1h-2zM1 3h2v1h-2zM8 3h2v1h-2zM1 4h1v1h-1zM8 4h2v1h-2zM7 5h2v1h-2zM6 6h3v1h-3zM4 7h3v1h-3zM3 8h2v1h-2zM2 9h2v1h-2zM1 10h2v1h-2zM1 11h9v1h-9zM0 12h10v1h-10z"/><path transform="translate(24 151)" d="M3 0h4v1h-4zM2 1h2v1h-2zM7 1h2v1h-2zM1 2h2v1h-2zM8 2h2v1h-2zM1 3h2v1h-2zM8 3h2v1h-2zM1 4h1v1h-1zM8 4h2v1h-2zM7 5h2v1h-2zM6 6h3v1h-3zM4 7h3v1h-3zM3 8h2v1h-2zM2 9h2v1h-2zM1 10h2v1h-2zM1 11h9v1h-9zM0 12h10v1h-10z"/><path transform="translate(34 151)" d="M3 0h4v1h-4zM2 1h2v1h-2zM6 1h2v1h-2zM1 2h3v1h-3zM6 2h3v1h-3zM1 3h3v1h-3zM6 3h3v1h-3zM1 4h2v1h-2zM7 4h2v1h-2zM1 5h2v1h-2zM7 5h2v1h-2zM1 6h2v1h-2zM7 6h2v1h-2zM1 7h2v1h-2zM7 7h2v1h-2zM1 8h2v1h-2zM7 8h2v1h-2zM1 9h2v1h-2zM7 9h2v1h-2zM1 10h3v1h-3zM6 10h3v1h-3zM2 11h2v1h-2zM6 11h2v1h-2zM3 12h4v1h-4z"/><path transform="translate(44 151)" d="M3 0h4v1h-4zM2 1h2v1h-2zM6 1h2v1h-2zM1 2h3v1h-3zM6 2h3v1h-3zM1 3h3v1h-3zM6 3h3v1h-3zM1 4h2v1h-2zM7 4h2v1h-2zM1 5h2v1h-2zM7 5h2v1h-2zM1 6h2v1h-2zM7 6h2v1h-2zM1 7h2v1h-2zM7 7h2v1h-2zM1 8h2v1h-2zM7 8h2v1h-2zM1 9h2v1h-2zM7 9h2v1h-2zM1 10h3v1h-3zM6 10h3v1h-3zM2 11h2v1h-2zM6 11h2v1h-2zM3 12h4v1h-4z"/><path transform="translate(54 151)" d="M3 0h4v1h-4zM2 1h2v1h-2zM6 1h2v1h-2zM1 2h3v1h-3zM6 2h3v1h-3zM1 3h3v1h-3zM6 3h3v1h-3zM1 4h2v1h-2zM7 4h2v1h-2zM1 5h2v1h-2zM7 5h2v1h-2zM1 6h2v1h-2zM7 6h2v1h-2zM1 7h2v1h-2zM7 7h2v1h-2zM1 8h2v1h-2zM7 8h2v1h-2zM1 9h2v1h-2zM7 9h2v1h-2zM1 10h3v1h-3zM6 10h3v1h-3zM2 11h2v1h-2zM6 11h2v1h-2zM3 12h4v1h-4z"/><path transform="translate(24 422)" d="M5 0h2v1h-2zM5 1h2v1h-2zM2 2h5v1h-5zM2 3h5v1h-5zM5 4h2v1h-2zM5 5h2v1h-2zM5 6h2v1h-2zM5 7h2v1h-2zM5 8h2v1h-2zM5 9h2v1h-2zM5 10h2v1h-2zM5 11h2v1h-2zM5 12h2v1h-2z"/><path transform="translate(34 422)" d="M3 0h4v1h-4zM2 1h2v1h-2zM6 1h2v1h-2zM1 2h3v1h-3zM6 2h3v1h-3zM1 3h3v1h-3zM6 3h3v1h-3zM1 4h2v1h-2zM7 4h2v1h-2zM1 5h2v1h-2zM7 5h2v1h-2zM1 6h2v1h-2zM7 6h2v1h-2zM1 7h2v1h-2zM7 7h2v1h-2zM1 8h2v1h-2zM7 8h2v1h-2zM1 9h2v1h-2zM7 9h2v1h-2zM1 10h3v1h-3zM6 10h3v1h-3zM2 11h2v1h-2zM6 11h2v1h-2zM3 12h4v1h-4z"/><path transform="translate(44 422)" d="M3 0h4v1h-4zM2 1h2v1h-2zM6 1h2v1h-2zM1 2h3v1h-3zM6 2h3v1h-3zM1 3h3v1h-3zM6 3h3v1h-3zM1 4h2v1h-2zM7 4h2v1h-2zM1 5h2v1h-2zM7 5h2v1h-2zM1 6h2v1h-2zM7 6h2v1h-2zM1 7h2v1h-2zM7 7h2v1h-2zM1 8h2v1h-2zM7 8h2v1h-2zM1 9h2v1h-2zM7 9h2v1h-2zM1 10h3v1h-3zM6 10h3v1h-3zM2 11h2v1h-2zM6 11h2v1h-2zM3 12h4v1h-4z"/><path transform="translate(54 422)" d="M3 0h4v1h-4zM2 1h2v1h-2zM6 1h2v1h-2zM1 2h3v1h-3zM6 2h3v1h-3zM1 3h3v1h-3zM6 3h3v1h-3zM1 4h2v1h-2zM7 4h2v1h-2zM1 5h2v1h-2zM7 5h2v1h-2zM1 6h2v1h-2zM7 6h2v1h-2zM1 7h2v1h-2zM7 7h2v1h-2zM1 8h2v1h-2zM7 8h2v1h-2zM1 9h2v1h-2zM7 9h2v1h-2zM1 10h3v1h-3zM6 10h3v1h-3zM2 11h2v1h-2zM6 11h2v1h-2zM3 12h4v1h-4z"/><path transform="translate(55 693)" d="M3 0h4v1h-4zM2 1h2v1h-2zM6 1h2v1h-2zM1 2h3v1h-3zM6 2h3v1h-3zM1 3h3v1h-3zM6 3h3v1h-3zM1 4h2v1h-2zM7 4h2v1h-2zM1 5h2v1h-2zM7 5h2v1h-2zM1 6h2v1h-2zM7 6h2v1h-2zM1 7h2v1h-2zM7 7h2v1h-2zM1 8h2v1h-2zM7 8h2v1h-2zM1 9h2v1h-2zM7 9h2v1h-2zM1 10h3v1h-3zM6 10h3v1h-3zM2 11h2v1h-2zM6 11h2v1h-2zM3 12h4v1h-4z"/></g>
<path fill="#0000ff" d="M342 765h5v1h-5zM348 765h2v1h-2zM351 765h5v1h-5zM344 766h1v1h-1zM348 766h2v1h-2zM354 766h1v1h-1zM344 767h1v1h-1zM347 767h3v1h-3zM352 767h1v1h-1zM344 768h1v1h-1zM347 768h3v1h-3zM352 768h1v1h-1zM344 769h1v1h-1zM348 769h2v1h-2zM351 769h1v1h-1zM344 770h1v1h-1zM346 770h1v1h-1zM348 770h2v1h-2zM351 770h1v1h-1zM344 771h1v1h-1zM346 771h1v1h-1zM348 771h2v1h-2zM351 771h1v1h-1zM344 772h2v1h-2zM348 772h3v1h-3zM344 773h2v1h-2zM348 773h3v1h-3zM344 774h2v1h-2zM348 774h2v1h-2zM344 775h1v1h-1zM348 775h2v1h-2zM344 776h1v1h-1zM348 776h2v1h-2zM344 777h1v1h-1zM348 777h1v1h-1zM357 769h6v1h-6zM356 770h2v1h-2zM362 770h2v1h-2zM362 771h2v1h-2zM358 772h6v1h-6zM356 773h2v1h-2zM362 773h2v1h-2zM355 774h2v1h-2zM362 774h1v1h-1zM355 775h2v1h-2zM362 775h1v1h-1zM355 776h2v1h-2zM361 776h2v1h-2zM356 777h5v1h-5zM362 777h2v1h-2zM367 769h4v1h-4zM373 769h4v1h-4zM368 770h2v1h-2zM374 770h1v1h-1zM369 771h1v1h-1zM374 771h1v1h-1zM369 772h2v1h-2zM373 772h1v1h-1zM369 773h2v1h-2zM373 773h1v1h-1zM369 774h2v1h-2zM372 774h1v1h-1zM370 775h2v1h-2zM370 776h2v1h-2zM380 769h6v1h-6zM379 770h2v1h-2zM385 770h2v1h-2zM379 771h1v1h-1zM385 771h2v1h-2zM378 772h9v1h-9zM378 773h1v1h-1zM378 774h1v1h-1zM378 775h1v1h-1zM379 776h1v1h-1zM384 776h1v1h-1zM379 777h5v1h-5zM390 764h3v1h-3zM392 765h1v1h-1zM392 766h1v1h-1zM391 767h2v1h-2zM391 768h2v1h-2zM391 769h2v1h-2zM391 770h1v1h-1zM391 771h1v1h-1zM390 772h2v1h-2zM390 773h2v1h-2zM390 774h2v1h-2zM390 775h2v1h-2zM390 776h1v1h-1zM388 777h5v1h-5zM398 769h6v1h-6zM397 770h2v1h-2zM403 770h2v1h-2zM397 771h1v1h-1zM403 771h2v1h-2zM396 772h9v1h-9zM396 773h1v1h-1zM396 774h1v1h-1zM396 775h1v1h-1zM397 776h1v1h-1zM402 776h1v1h-1zM397 777h5v1h-5zM407 769h9v1h-9zM408 770h3v1h-3zM415 770h1v1h-1zM408 771h2v1h-2zM415 771h1v1h-1zM408 772h2v1h-2zM415 772h1v1h-1zM408 773h1v1h-1zM414 773h2v1h-2zM408 774h1v1h-1zM414 774h2v1h-2zM408 775h1v1h-1zM414 775h2v1h-2zM407 776h2v1h-2zM414 776h1v1h-1zM405 777h5v1h-5zM412 777h5v1h-5zM422 769h4v1h-4zM427 769h2v1h-2zM421 770h2v1h-2zM426 770h1v1h-1zM420 771h2v1h-2zM426 771h1v1h-1zM420 772h2v1h-2zM425 772h2v1h-2zM421 773h1v1h-1zM425 773h1v1h-1zM420 774h5v1h-5zM419 775h1v1h-1zM419 776h1v1h-1zM419 777h8v1h-8zM418 778h1v1h-1zM425 778h2v1h-2zM418 779h1v1h-1zM426 779h1v1h-1zM418 780h1v1h-1zM426 780h1v1h-1zM419 781h7v1h-7zM433 765h2v1h-2zM433 766h2v1h-2zM433 767h2v1h-2zM433 768h1v1h-1zM431 769h6v1h-6zM432 770h2v1h-2zM432 771h2v1h-2zM432 772h2v1h-2zM432 773h1v1h-1zM432 774h1v1h-1zM432 775h1v1h-1zM432 776h1v1h-1zM436 776h1v1h-1zM432 777h4v1h-4zM441 764h3v1h-3zM442 765h2v1h-2zM442 766h2v1h-2zM442 767h2v1h-2zM442 768h1v1h-1zM442 769h7v1h-7zM441 770h2v1h-2zM448 770h1v1h-1zM441 771h2v1h-2zM448 771h1v1h-1zM441 772h2v1h-2zM448 772h1v1h-1zM441 773h1v1h-1zM447 773h2v1h-2zM440 774h2v1h-2zM447 774h2v1h-2zM440 775h2v1h-2zM447 775h2v1h-2zM440 776h2v1h-2zM447 776h1v1h-1zM438 777h5v1h-5zM445 777h5v1h-5zM468 763h1v1h-1zM467 764h1v1h-1zM466 765h1v1h-1zM465 766h2v1h-2zM465 767h1v1h-1zM464 768h2v1h-2zM464 769h1v1h-1zM463 770h2v1h-2zM463 771h1v1h-1zM463 772h1v1h-1zM462 773h2v1h-2zM462 774h2v1h-2zM462 775h2v1h-2zM462 776h2v1h-2zM463 777h1v1h-1zM463 778h2v1h-2zM464 779h1v1h-1zM464 780h1v1h-1zM465 781h1v1h-1zM473 769h2v1h-2zM480 769h1v1h-1zM473 770h1v1h-1zM479 770h2v1h-2zM472 771h2v1h-2zM479 771h1v1h-1zM472 772h2v1h-2zM478 772h2v1h-2zM471 773h2v1h-2zM478 773h2v1h-2zM471 774h2v1h-2zM477 774h2v1h-2zM470 775h3v1h-3zM476 775h3v1h-3zM481 775h1v1h-1zM470 776h1v1h-1zM472 776h1v1h-1zM475 776h1v1h-1zM477 776h1v1h-1zM480 776h1v1h-1zM470 777h1v1h-1zM472 777h3v1h-3zM477 777h3v1h-3zM469 778h1v1h-1zM469 779h1v1h-1zM468 780h1v1h-1zM468 781h1v1h-1zM484 769h9v1h-9zM494 769h5v1h-5zM485 770h3v1h-3zM492 770h2v1h-2zM498 770h2v1h-2zM485 771h2v1h-2zM492 771h1v1h-1zM498 771h2v1h-2zM485 772h2v1h-2zM492 772h1v1h-1zM498 772h2v1h-2zM485 773h1v1h-1zM491 773h2v1h-2zM498 773h1v1h-1zM485 774h1v1h-1zM491 774h2v1h-2zM498 774h1v1h-1zM485 775h1v1h-1zM491 775h2v1h-2zM497 775h2v1h-2zM484 776h2v1h-2zM491 776h1v1h-1zM497 776h2v1h-2zM482 777h5v1h-5zM489 777h5v1h-5zM495 777h5v1h-5zM506 763h1v1h-1zM506 764h1v1h-1zM507 765h1v1h-1zM507 766h1v1h-1zM507 767h2v1h-2zM507 768h2v1h-2zM507 769h2v1h-2zM507 770h2v1h-2zM507 771h2v1h-2zM507 772h1v1h-1zM506 773h2v1h-2zM506 774h2v1h-2zM506 775h1v1h-1zM505 776h2v1h-2zM505 777h1v1h-1zM504 778h2v1h-2zM503 779h2v1h-2zM503 780h1v1h-1zM502 781h1v1h-1zM6 467h2v1h-2zM6 468h4v1h-4zM6 469h1v1h-1zM6 470h1v1h-1zM6 471h1v1h-1zM6 472h1v1h-1zM10 472h5v1h-5zM6 473h1v1h-1zM12 473h1v1h-1zM6 474h2v1h-2zM12 474h1v1h-1zM6 475h7v1h-7zM18 475h1v1h-1zM6 476h1v1h-1zM10 476h7v1h-7zM18 476h1v1h-1zM6 477h1v1h-1zM15 477h4v1h-4zM18 478h1v1h-1zM18 479h1v1h-1zM6 463h6v1h-6zM18 463h1v1h-1zM6 464h1v1h-1zM8 464h9v1h-9zM18 464h1v1h-1zM6 465h1v1h-1zM13 465h6v1h-6zM18 466h1v1h-1zM18 467h1v1h-1zM18 450h1v1h-1zM10 451h7v1h-7zM18 451h1v1h-1zM10 452h1v1h-1zM14 452h5v1h-5zM10 453h1v1h-1zM17 453h2v1h-2zM18 454h1v1h-1zM18 455h1v1h-1zM18 456h1v1h-1zM10 457h4v1h-4zM18 457h1v1h-1zM10 458h9v1h-9zM10 459h1v1h-1zM15 459h4v1h-4zM10 437h1v1h-1zM10 438h1v1h-1zM10 439h2v1h-2zM18 439h1v1h-1zM10 440h1v1h-1zM12 440h1v1h-1zM18 440h1v1h-1zM10 441h1v1h-1zM13 441h1v1h-1zM16 441h3v1h-3zM14 442h3v1h-3zM18 442h1v1h-1zM10 443h1v1h-1zM12 443h4v1h-4zM10 444h3v1h-3zM16 444h1v1h-1zM10 445h2v1h-2zM16 445h1v1h-1zM18 445h1v1h-1zM10 446h1v1h-1zM17 446h2v1h-2zM18 447h1v1h-1zM18 448h1v1h-1zM4 419h1v1h-1zM5 420h1v1h-1zM6 421h2v1h-2zM7 422h2v1h-2zM8 423h4v1h-4zM20 423h3v1h-3zM10 424h11v1h-11zM14 425h5v1h-5zM18 409h1v1h-1zM11 410h8v1h-8zM6 411h11v1h-11zM18 411h1v1h-1zM7 412h3v1h-3zM15 412h1v1h-1zM18 412h1v1h-1zM9 413h2v1h-2zM15 413h1v1h-1zM11 414h2v1h-2zM15 414h1v1h-1zM13 415h1v1h-1zM15 415h1v1h-1zM14 416h2v1h-2zM18 416h1v1h-1zM16 417h3v1h-3zM18 418h1v1h-1zM18 419h1v1h-1zM10 398h2v1h-2zM10 399h3v1h-3zM10 400h1v1h-1zM10 401h1v1h-1zM11 402h1v1h-1zM10 403h4v1h-4zM18 403h1v1h-1zM10 404h1v1h-1zM12 404h7v1h-7zM10 405h1v1h-1zM17 405h2v1h-2zM18 406h1v1h-1zM18 407h1v1h-1zM11 387h6v1h-6zM10 388h2v1h-2zM16 388h2v1h-2zM10 389h1v1h-1zM17 389h2v1h-2zM10 390h1v1h-1zM18 390h1v1h-1zM10 391h1v1h-1zM18 391h1v1h-1zM6 392h3v1h-3zM11 392h1v1h-1zM18 392h1v1h-1zM6 393h8v1h-8zM18 393h1v1h-1zM6 394h1v1h-1zM12 394h7v1h-7zM17 395h2v1h-2zM6 380h2v1h-2zM10 380h1v1h-1zM18 380h1v1h-1zM6 381h2v1h-2zM10 381h4v1h-4zM18 381h1v1h-1zM10 382h1v1h-1zM14 382h5v1h-5zM10 383h1v1h-1zM18 383h1v1h-1zM18 384h1v1h-1zM10 371h1v1h-1zM17 371h1v1h-1zM10 372h1v1h-1zM18 372h1v1h-1zM6 373h2v1h-2zM10 373h1v1h-1zM18 373h1v1h-1zM6 374h7v1h-7zM18 374h1v1h-1zM10 375h9v1h-9zM10 376h1v1h-1zM15 376h3v1h-3zM10 360h2v1h-2zM10 361h3v1h-3zM10 362h1v1h-1zM10 363h1v1h-1zM10 364h2v1h-2zM10 365h3v1h-3zM18 365h1v1h-1zM10 366h7v1h-7zM18 366h1v1h-1zM10 367h1v1h-1zM14 367h5v1h-5zM10 368h1v1h-1zM18 368h1v1h-1zM18 369h1v1h-1zM12 350h2v1h-2zM18 350h1v1h-1zM11 351h8v1h-8zM10 352h1v1h-1zM13 352h1v1h-1zM16 352h3v1h-3zM10 353h1v1h-1zM13 353h1v1h-1zM18 353h1v1h-1zM10 354h1v1h-1zM13 354h1v1h-1zM18 354h1v1h-1zM10 355h1v1h-1zM13 355h1v1h-1zM18 355h1v1h-1zM11 356h2v1h-2zM14 356h2v1h-2zM17 356h2v1h-2zM11 357h2v1h-2zM15 357h4v1h-4zM15 358h4v1h-4zM10 338h2v1h-2zM10 339h3v1h-3zM10 340h1v1h-1zM10 341h1v1h-1zM10 342h2v1h-2zM12 343h1v1h-1zM18 343h1v1h-1zM10 344h7v1h-7zM18 344h1v1h-1zM10 345h1v1h-1zM14 345h5v1h-5zM10 346h1v1h-1zM18 346h1v1h-1zM18 347h1v1h-1zM10 326h1v1h-1zM10 327h1v1h-1zM10 328h2v1h-2zM10 329h1v1h-1zM12 329h2v1h-2zM10 330h1v1h-1zM14 330h1v1h-1zM15 331h2v1h-2zM10 332h1v1h-1zM17 332h2v1h-2zM10 333h1v1h-1zM12 333h8v1h-8zM10 334h5v1h-5zM20 334h1v1h-1zM10 335h1v1h-1zM21 335h1v1h-1zM10 336h1v1h-1zM22 336h1v1h-1zM22 337h1v1h-1zM21 338h2v1h-2zM6 303h1v1h-1zM6 304h2v1h-2zM6 305h1v1h-1zM8 305h4v1h-4zM6 306h1v1h-1zM12 306h4v1h-4zM16 307h1v1h-1zM17 308h1v1h-1zM18 309h1v1h-1zM6 310h1v1h-1zM18 310h1v1h-1zM6 311h1v1h-1zM18 311h1v1h-1zM6 312h3v1h-3zM18 312h1v1h-1zM6 313h8v1h-8zM17 313h2v1h-2zM6 314h1v1h-1zM12 314h6v1h-6zM18 292h1v1h-1zM10 293h7v1h-7zM18 293h1v1h-1zM10 294h1v1h-1zM14 294h5v1h-5zM10 295h1v1h-1zM18 295h1v1h-1zM10 296h1v1h-1zM18 296h1v1h-1zM10 297h1v1h-1zM10 298h2v1h-2zM10 299h4v1h-4zM18 299h1v1h-1zM10 300h1v1h-1zM12 300h7v1h-7zM10 301h1v1h-1zM17 301h2v1h-2zM18 302h1v1h-1zM18 303h1v1h-1zM6 285h1v1h-1zM18 285h1v1h-1zM6 286h2v1h-2zM10 286h4v1h-4zM18 286h1v1h-1zM10 287h1v1h-1zM12 287h7v1h-7zM10 288h1v1h-1zM17 288h2v1h-2zM18 289h1v1h-1zM18 290h1v1h-1zM10 277h1v1h-1zM16 277h3v1h-3zM10 278h1v1h-1zM18 278h1v1h-1zM6 279h5v1h-5zM18 279h1v1h-1zM8 280h11v1h-11zM10 281h1v1h-1zM13 281h6v1h-6zM6 269h10v1h-10zM4 270h2v1h-2zM15 270h3v1h-3zM17 271h3v1h-3zM19 272h2v1h-2zM21 273h1v1h-1zM22 274h1v1h-1z"/>
</svg>
<span class="t" style="left:54px;top:736px;width:40px;text-align:center">1.1</span>
<span class="t" style="left:124px;top:736px;width:40px;text-align:center">1.11</span>
<span class="t" style="left:195px;top:736px;width:40px;text-align:center">1.12</span>
<span class="t" style="left:265px;top:736px;width:40px;text-align:center">1.13</span>
<span class="t" style="left:336px;top:736px;width:40px;text-align:center">1.14</span>
<span class="t" style="left:406px;top:736px;width:40px;text-align:center">1.15</span>
<span class="t" style="left:477px;top:736px;width:40px;text-align:center">1.16</span>
<span class="t" style="left:547px;top:736px;width:40px;text-align:center">1.17</span>
<span class="t" style="left:618px;top:736px;width:40px;text-align:center">1.18</span>
<span class="t" style="left:688px;top:736px;width:40px;text-align:center">1.19</span>
<span class="t" style="left:759px;top:736px;width:40px;text-align:center">1.2</span>
<span class="t" style="left:14px;top:148px;width:50px;text-align:right">2000</span>
<span class="t" style="left:14px;top:419px;width:50px;text-align:right">1000</span>
<span class="t" style="left:14px;top:690px;width:50px;text-align:right">0</span>
<span class="t a" style="left:341px;top:762px;width:170px">Wavelength (&#956;m)</span>
<span class="t a v">Flux (Arbitrary Unit)</span>
</body></html>
